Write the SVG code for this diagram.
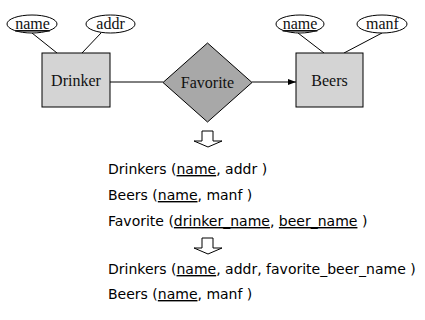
<svg xmlns="http://www.w3.org/2000/svg" width="425" height="320" viewBox="0 0 425 320">
<defs>
<style>
.ell{fill:#fff;stroke:#000;stroke-width:1}
.ent{fill:#d4d4d4;stroke:#000;stroke-width:1}
.rel{fill:#a8a8a8;stroke:#000;stroke-width:1}
.ln{stroke:#000;stroke-width:1;fill:none}
.er{font-family:"Liberation Serif","Times New Roman",serif;font-size:16px;fill:#111;text-anchor:middle}
.tx{font-family:"DejaVu Sans",Verdana,sans-serif;font-size:14px;fill:#000}
.u{text-decoration:underline}
.blk{fill:#fff;stroke:#000;stroke-width:1}
</style>
<marker id="ah" viewBox="0 0 8 6" refX="8" refY="3" markerWidth="8" markerHeight="6" markerUnits="userSpaceOnUse" orient="auto">
<path d="M0,0 L8,3 L0,6 Z" fill="#000"/>
</marker>
</defs>
<g id="connectors">
<line class="ln" x1="32" y1="33" x2="57" y2="53"/>
<line class="ln" x1="101" y1="33" x2="82" y2="53"/>
<line class="ln" x1="298" y1="33" x2="324" y2="53"/>
<line class="ln" x1="382" y1="33" x2="344" y2="53"/>
<line class="ln" x1="110" y1="82" x2="163" y2="82"/>
<line class="ln" x1="252" y1="82" x2="296" y2="82" marker-end="url(#ah)"/>
</g>
<g id="drinker">
<rect class="ent" x="42" y="53" width="68" height="54"/>
<text class="er" x="76" y="86">Drinker</text>
</g>
<g id="drinker-name">
<ellipse class="ell" cx="32" cy="24" rx="25" ry="9"/>
<text class="er u" x="32.5" y="29">name</text>
</g>
<g id="drinker-addr">
<ellipse class="ell" cx="110.5" cy="24" rx="24.5" ry="9"/>
<text class="er" x="110.5" y="29">addr</text>
</g>
<g id="favorite">
<polygon class="rel" points="207.5,43 252,82.5 207.5,122 163,82.5"/>
<text class="er" x="207.5" y="88">Favorite</text>
</g>
<g id="beers">
<rect class="ent" x="296" y="53" width="67" height="54"/>
<text class="er" x="329.5" y="86">Beers</text>
</g>
<g id="beers-name">
<ellipse class="ell" cx="300" cy="24" rx="24" ry="9"/>
<text class="er u" x="300" y="29">name</text>
</g>
<g id="beers-manf">
<ellipse class="ell" cx="382" cy="24" rx="25" ry="9"/>
<text class="er" x="382.5" y="29">manf</text>
</g>
<g id="arrow1">
<polygon class="blk" points="202,131 213,131 213,141 222,141 208,147 194,141 202,141"/>
</g>
<g id="schema1">
<text class="tx" x="108" y="174">Drinkers (<tspan class="u">name</tspan>, addr )</text>
<text class="tx" x="108" y="200">Beers (<tspan class="u">name</tspan>, manf )</text>
<text class="tx" x="108" y="226">Favorite (<tspan class="u">drinker_name</tspan>, <tspan class="u">beer_name</tspan> )</text>
</g>
<g id="arrow2">
<polygon class="blk" points="202,238 213,238 213,248 222,248 208,254 194,248 202,248"/>
</g>
<g id="schema2">
<text class="tx" x="108" y="274">Drinkers (<tspan class="u">name</tspan>, addr, favorite_beer_name )</text>
<text class="tx" x="108" y="299">Beers (<tspan class="u">name</tspan>, manf )</text>
</g>
</svg>
